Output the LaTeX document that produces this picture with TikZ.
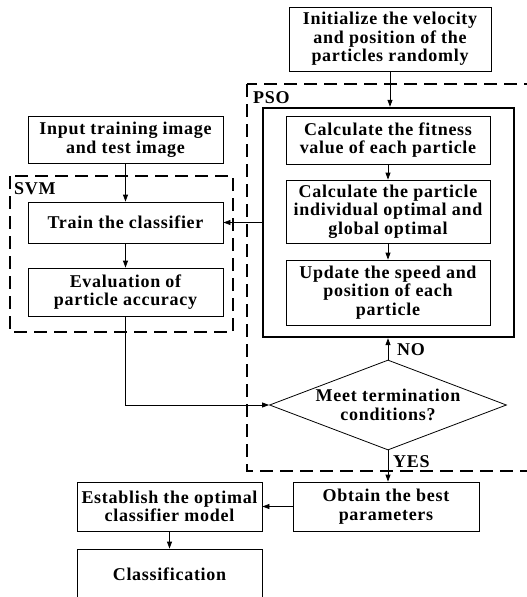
\documentclass[tikz,border=0pt]{standalone}
\usepackage{fontspec}
\setmainfont{Liberation Serif}[LetterSpace=4]
\usetikzlibrary{shapes.geometric,arrows.meta}

\begin{document}
\begin{tikzpicture}[x=1pt,y=-1pt,
  every node/.style={font=\fontsize{18}{18.5}\selectfont\bfseries},
  stepbox/.style={draw, line width=0.8pt, align=center, inner sep=0pt},
  group/.style={draw, dash pattern=on 13pt off 7pt, line width=1.2pt},
  flow/.style={line width=0.8pt, -{Triangle[length=7pt,width=5pt]}},
  tag/.style={anchor=west, inner sep=0pt},
]
\useasboundingbox (0,0) rectangle (527,597);
\clip (0,0) rectangle (527,597);

% PSO part
\node[stepbox, minimum width=202pt, minimum height=64pt] (init) at (390,39)
  {Initialize the velocity\\and position of the\\particles randomly};
\draw[group] (247,84) rectangle (545,471);
\node[tag] (psotag) at (253,98) {PSO};
\node[draw, line width=2.4pt, minimum width=251pt, minimum height=229pt] (loop) at (388.5,222.5) {};
\node[stepbox, minimum width=204pt, minimum height=48pt] (fit) at (388,140)
  {Calculate the fitness\\value of each particle};
\node[stepbox, minimum width=204pt, minimum height=63pt] (best) at (388,211.5)
  {Calculate the particle\\individual optimal and\\global optimal};
\node[stepbox, minimum width=204pt, minimum height=65pt] (upd) at (388,292.5)
  {Update the speed and\\position of each\\particle};
\node[diamond, draw, line width=0.8pt, aspect=2.63, minimum width=237pt, minimum height=90pt,
  inner sep=-6pt, align=center] (cond) at (388,405) {Meet termination\\conditions?};
\node[tag] (notag) at (397,350) {NO};
\node[tag] (yestag) at (393,462) {YES};

% SVM part
\node[stepbox, minimum width=195pt, minimum height=47pt] (input) at (125.5,139.5)
  {Input training image\\and test image};
\draw[group] (10,176) rectangle (233,332);
\node[tag] (svmtag) at (14,189) {SVM};
\node[stepbox, minimum width=195pt, minimum height=41pt] (train) at (125.5,222.5)
  {Train the classifier};
\node[stepbox, minimum width=195pt, minimum height=48pt] (eval) at (125.5,292)
  {Evaluation of\\particle accuracy};

% Output
\node[stepbox, minimum width=186pt, minimum height=49pt] (obtain) at (386,506.5)
  {Obtain the best\\parameters};
\node[stepbox, minimum width=185pt, minimum height=49pt] (establish) at (169.5,506.5)
  {Establish the optimal\\classifier model};
\node[stepbox, minimum width=185pt, minimum height=50pt] (classify) at (169.5,574)
  {Classification};

% Connectors
\draw[flow] (init.south) -- (init.south |- loop.north);
\draw[flow] (fit) -- (best);
\draw[flow] (best) -- (upd);
\draw[flow] (cond.north) -- (cond.north |- loop.south);
\draw[flow] (loop.west) -- (train.east);
\draw[flow] (input) -- (train);
\draw[flow] (train) -- (eval);
\draw[flow] (eval.south) |- (cond.west);
\draw[flow] (cond.south) -- (cond.south |- obtain.north);
\draw[flow] (obtain) -- (establish);
\draw[flow] (establish) -- (classify);
\end{tikzpicture}
\end{document}
